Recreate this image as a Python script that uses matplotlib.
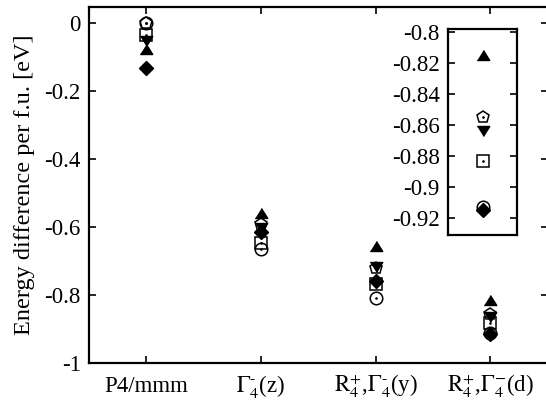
#!/usr/bin/env python3
"""
Energy difference per f.u. for the distorted structures,
with an inset zooming on the last group.
"""

import matplotlib
matplotlib.use("Agg")
import matplotlib.pyplot as plt
from matplotlib.ticker import FormatStrFormatter

# --- data (eV per f.u.) ---
structures = ["P4/mmm",
              r"$\Gamma_4^{\text{-}}$(z)",
              r"$\mathrm{R}_4^{+}$,$\Gamma_4^{\text{-}}$(y)",
              r"$\mathrm{R}_4^{+}$,$\Gamma_4^{-}$(d)"]
x_pos = [1, 2, 3, 4]

e_circle = [0.0, -0.665, -0.810, -0.913]
e_pentagon = [0.0, -0.592, -0.720, -0.855]
e_square = [-0.035, -0.648, -0.768, -0.883]
e_tri_up = [-0.078, -0.560, -0.655, -0.815]
e_tri_down = [-0.055, -0.603, -0.718, -0.864]
e_diamond = [-0.134, -0.615, -0.760, -0.915]

main_yticks = [0, -0.2, -0.4, -0.6, -0.8, -1]
inset_yticks = [-0.8, -0.82, -0.84, -0.86, -0.88, -0.9, -0.92]

plt.rcParams["font.family"] = "Liberation Serif"
plt.rcParams["mathtext.fontset"] = "stix"
plt.rcParams["axes.unicode_minus"] = False
plt.rcParams["font.size"] = 16.5

MS = 9
# matlab-like triangles: wider than tall
TRI_UP = [(-1, -0.8), (1, -0.8), (0, 0.8)]
TRI_DOWN = [(-1, 0.8), (1, 0.8), (0, -0.8)]


def draw_points(ax, xs, sl):
    # open markers (with a small centre dot, as in the original export)
    for ys, m in [(e_circle, "o"), (e_pentagon, "p"), (e_square, "s")]:
        ax.plot(xs, ys[sl], ls="none", marker=m, ms=MS, mfc="none", mec="k", mew=1.1)
        ax.plot(xs, ys[sl], ls="none", marker=".", ms=1.8, color="k")
    # filled markers
    ax.plot(xs, e_tri_up[sl], ls="none", marker=TRI_UP, ms=MS, color="k")
    ax.plot(xs, e_tri_down[sl], ls="none", marker=TRI_DOWN, ms=MS, color="k")
    ax.plot(xs, e_diamond[sl], ls="none", marker="D", ms=7.4, color="k")


def style_box(ax):
    for sp in ax.spines.values():
        sp.set_linewidth(1.6)
    ax.tick_params(direction="in", length=5, width=1.2, top=True, right=True)


fig = plt.figure(figsize=(5.46, 4.07), dpi=100)

# --- main axes ---
ax = fig.add_axes([0.163, 0.108, 0.84, 0.874])
draw_points(ax, x_pos, slice(None))
ax.set_xlim(0.5, 4.5)
ax.set_ylim(-1, 0.045)
ax.set_xticks(x_pos)
ax.set_xticklabels(structures)
ax.set_yticks(main_yticks)
ax.yaxis.set_major_formatter(FormatStrFormatter("%g"))
ax.set_ylabel("Energy difference per f.u. [eV]", fontsize=17.5, labelpad=7)
style_box(ax)
ax.tick_params(axis="y", pad=6)
ax.tick_params(axis="x", pad=21)
for lbl in ax.get_xticklabels():
    lbl.set_verticalalignment("baseline")

# --- inset: zoom on last structure ---
axi = fig.add_axes([0.8205, 0.4226, 0.1264, 0.506])
draw_points(axi, [1], slice(-1, None))
axi.set_xlim(0.5, 1.5)
axi.set_ylim(-0.931, -0.798)
axi.set_xticks([])
axi.set_yticks(inset_yticks)
axi.yaxis.set_major_formatter(FormatStrFormatter("%g"))
style_box(axi)
axi.tick_params(top=False, bottom=False, pad=6)

plt.savefig("out.png", dpi=100)
plt.close()
